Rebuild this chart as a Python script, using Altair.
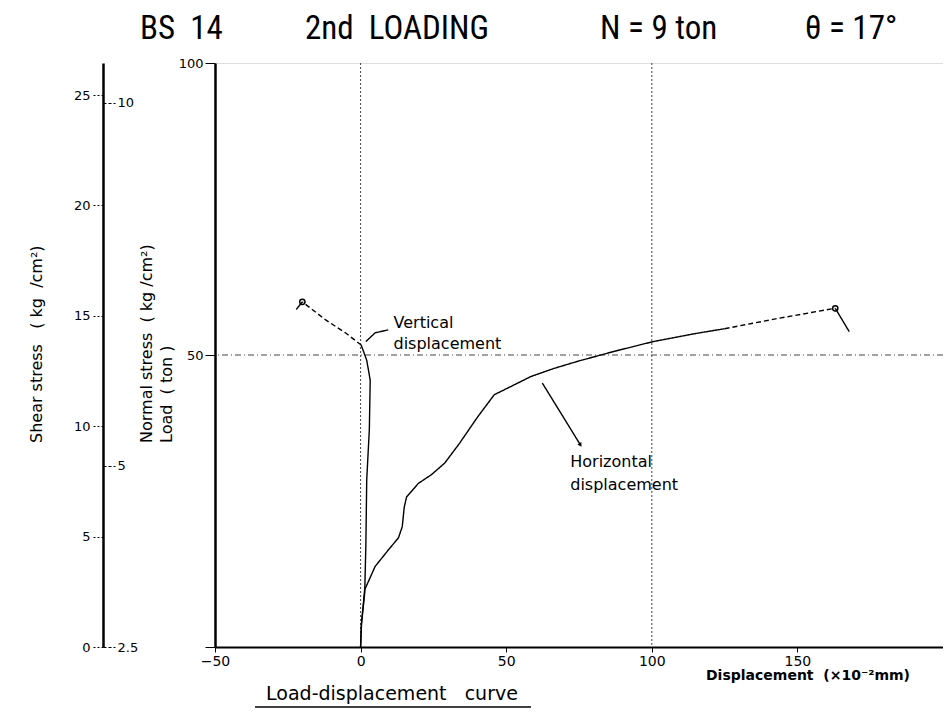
import altair as alt
import pandas as pd

# ---------------- data (displacement x10^-2 mm, load ton) ----------------
vert_solid_x = [0, 0.3, 1.4, 1.8, 2.1, 3.0, 3.3, 2.1, 0.2]
vert_solid_load = [0, 4.0, 9.2, 17.2, 28.6, 37.2, 45.7, 49.1, 51.7]
vert_dash_x = [0.2, -5.2, -12.0, -20.0]
vert_dash_load = [51.7, 53.8, 56.0, 59.1]
vert_tail_x = [-20.0, -22.1]
vert_tail_load = [59.1, 57.8]

horiz_solid_x = [0, 0.3, 1.4, 5.0, 9.5, 13.0, 14.3, 15.0, 15.8, 19.8, 24.3, 28.9,
                 34.0, 40.2, 45.9, 51.6, 58.4, 66.4, 74.4, 86.9, 100.5, 115.3, 125.0]
horiz_solid_load = [0, 4.0, 9.8, 13.8, 16.6, 18.7, 20.6, 24.0, 25.7, 28.0, 29.5, 31.5,
                    34.9, 39.4, 43.2, 44.6, 46.3, 47.7, 48.9, 50.6, 52.3, 53.7, 54.5]
horiz_dash_x = [125.0, 143.7, 163.0]
horiz_dash_load = [54.5, 56.3, 58.0]
horiz_tail_x = [163.0, 167.8]
horiz_tail_load = [58.0, 54.0]

end_x = [-20.0, 163.0]
end_load = [59.1, 58.0]

lead_v_x = [1.8, 5.0, 9.5]
lead_v_load = [52.3, 53.8, 54.3]
lead_h_x = [62.4, 75.5]
lead_h_load = [45.2, 34.6]

label_text = ["Vertical", "displacement", "Horizontal", "displacement"]
label_x = [11.3, 11.3, 72.0, 72.0]
label_load = [54.6, 51.0, 30.8, 26.9]

grid_x = [0, 100]
grid_load = [50]

x_ticks = [-50, 0, 50, 100, 150]
load_ticks = [0, 50, 100]
shear_ticks = [0, 5, 10, 15, 20, 25]
normal_ticks = [2.5, 5, 10]

# ---------------- build tables ----------------
rows = []
def add(seg, style, xs_, ls_):
    for i, (a, b) in enumerate(zip(xs_, ls_)):
        rows.append({"x": a, "load": b, "seg": seg, "style": style, "i": i})

add("v1", "solid", vert_solid_x, vert_solid_load)
add("v2", "dashed", vert_dash_x, vert_dash_load)
add("v3", "solid", vert_tail_x, vert_tail_load)
add("h1", "solid", horiz_solid_x, horiz_solid_load)
add("h2", "dashed", horiz_dash_x, horiz_dash_load)
add("h3", "solid", horiz_tail_x, horiz_tail_load)
add("l1", "solid", lead_v_x, lead_v_load)
add("l2", "solid", lead_h_x, lead_h_load)
curves = pd.DataFrame(rows)

ends = pd.DataFrame({"x": end_x, "load": end_load})
arrow = pd.DataFrame({"x": lead_h_x[-1:], "load": lead_h_load[-1:]})
labels = pd.DataFrame({"t": label_text, "x": label_x, "load": label_load})
gx = pd.DataFrame({"x": grid_x})
gy = pd.DataFrame({"load": grid_load})

FONT = "DejaVu Sans"
NARROW = "Liberation Sans Narrow, Roboto Condensed, Liberation Sans"
S = "\u00a0"  # non-breaking space (keeps wide gaps in SVG text)

W, H = 728, 584
xs = alt.Scale(domain=[-50, 200], nice=False, zero=False)
ys = alt.Scale(domain=[0, 100], nice=False)

x_axis = alt.Axis(values=x_ticks, title=None, grid=False, tickSize=5, labelFontSize=14,
                  labelFont=FONT, labelColor="black", tickColor="black",
                  domainColor="black", domainWidth=2, labelPadding=2, labelFlush=False)
y_axis = alt.Axis(values=load_ticks, title=None, grid=False, tickSize=10, labelFontSize=13,
                  labelFont=FONT, labelColor="black", tickColor="black",
                  domainColor="black", domainWidth=2.5, labelPadding=2,
                  labelExpr="datum.value == 0 ? '' : datum.label")

def X(f="x"):
    return alt.X(f"{f}:Q", scale=xs, axis=x_axis)

def Y(f="load"):
    return alt.Y(f"{f}:Q", scale=ys, axis=y_axis)

lines = alt.Chart(curves).mark_line(color="black", strokeWidth=1.4).encode(
    x=X(), y=Y(), detail="seg:N", order="i:Q",
    strokeDash=alt.StrokeDash("style:N", scale=alt.Scale(domain=["solid", "dashed"],
                                                         range=[[1, 0], [5, 3]]), legend=None),
)

circles = alt.Chart(ends).mark_point(shape="circle", filled=False, size=28,
                                     color="black", strokeWidth=1.5, opacity=1).encode(x=X(), y=Y())

arrowhead = alt.Chart(arrow).mark_point(shape="triangle-down", filled=True, size=22,
                                        angle=328, color="black", opacity=1).encode(x=X(), y=Y())

vgrid = alt.Chart(gx).mark_rule(color="#444", strokeWidth=1, strokeDash=[2, 2]).encode(x=X())
hgrid = alt.Chart(gy).mark_rule(color="#444", strokeWidth=1, strokeDash=[6, 3, 1, 3]).encode(y=Y())

ann = alt.Chart(labels).mark_text(align="left", baseline="alphabetic", fontSize=16,
                                  font=FONT, color="black").encode(x=X(), y=Y(), text="t:N")

one = alt.Data(values=[{}])

def txt(s, px, py, size, font=FONT, angle=0, align="left", baseline="alphabetic", weight="normal"):
    return alt.Chart(one).mark_text(fontSize=size, font=font, angle=angle, align=align,
                                    baseline=baseline, fontWeight=weight, color="black").encode(
        x=alt.value(px - 215), y=alt.value(py - 63), text=alt.value(s))

texts = [
    txt("BS" + S * 2 + "14", 140, 39, 33, NARROW),
    txt("2nd" + S * 2 + "LOADING", 305, 39, 33, NARROW),
    txt("N" + S + "=" + S + "9" + S + "ton", 600, 39, 33, NARROW),
    txt("\u03b8" + S + "=" + S + "17\u00b0", 805, 39, 33, NARROW),
    txt("Shear stress" + S * 3 + "(" + S + "kg" + S * 2 + "/cm\u00b2)", 37, 443, 16,
        angle=270, baseline="middle"),
    txt("Normal stress" + S * 2 + "(" + S + "kg" + S + "/cm\u00b2)", 147, 443, 16,
        angle=270, baseline="middle"),
    txt("Load" + S * 2 + "(" + S + "ton" + S + ")", 167, 443, 16, angle=270, baseline="middle"),
    txt("Displacement" + S * 2 + "(\u00d710\u207b\u00b2mm)", 808, 680, 14, align="center",
        weight="bold"),
    txt("Load-displacement" + S * 3 + "curve", 392, 700, 19, align="center"),
]
underline = alt.Chart(one).mark_rule(color="black", strokeWidth=1.5).encode(
    x=alt.value(255 - 215), x2=alt.value(531 - 215), y=alt.value(707 - 63))

main = alt.layer(vgrid, hgrid, lines, circles, arrowhead, ann, *texts, underline)

shear_df = pd.DataFrame({"v": shear_ticks})
shear = alt.Chart(shear_df).mark_point(opacity=0).encode(
    y=alt.Y("v:Q", scale=alt.Scale(domain=[0, 26.45], nice=False),
            axis=alt.Axis(orient="left", offset=112, values=shear_ticks, title=None, grid=False,
                          tickSize=12, tickDash=[2, 2], tickColor="black", domainColor="black",
                          domainWidth=2.5, labelFontSize=13, labelFont=FONT, labelColor="black",
                          labelPadding=1)))

normal_df = pd.DataFrame({"v": normal_ticks})
normal = alt.Chart(normal_df).mark_point(opacity=0).encode(
    y=alt.Y("v:Q", scale=alt.Scale(domain=[2.5, 10.55], nice=False),
            axis=alt.Axis(orient="right", offset=-(W + 112), values=normal_ticks, title=None,
                          grid=False, domain=False, tickSize=12, tickDash=[3, 2], format=".1~f",
                          tickColor="black", labelFontSize=13, labelFont=FONT,
                          labelColor="black", labelPadding=2)))

chart = alt.layer(main, shear, normal).resolve_scale(y="independent").properties(
    width=W, height=H,
    autosize=alt.AutoSizeParams(type="none"),
    padding={"left": 207, "top": 55, "right": 0, "bottom": 62},
).configure_view(stroke="black", strokeWidth=2).configure(background="white")

chart.save("out.html", embed_options={"renderer": "svg", "actions": False})
